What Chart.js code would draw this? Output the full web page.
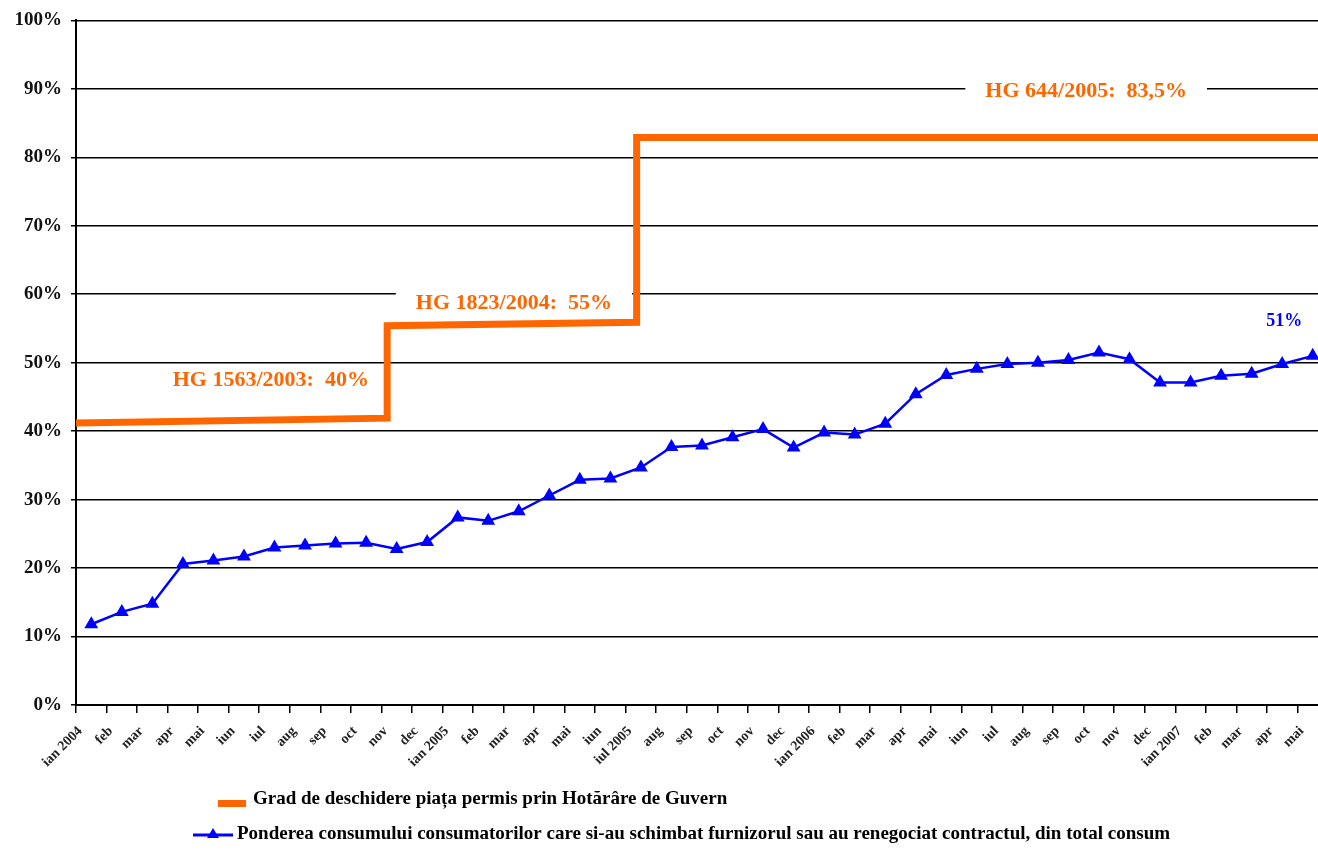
<!DOCTYPE html>
<html>
<head>
<meta charset="utf-8">
<script src="https://cdn.jsdelivr.net/npm/chart.js@4.4.1/dist/chart.umd.min.js"></script>
<style>
    html, body { margin: 0; padding: 0; background: #fff; overflow: hidden; }
    #wrap { width: 1336px; height: 850px; }
</style>
</head>
<body>
<div id="wrap"><canvas id="myLineChart" width="1336" height="850"></canvas></div>
<script>
// luni (categorii pe axa X)
const month_labels = [
    'ian 2004', 'feb', 'mar', 'apr', 'mai', 'iun', 'iul', 'aug', 'sep', 'oct', 'nov', 'dec',
    'ian 2005', 'feb', 'mar', 'apr', 'mai', 'iun', 'iul 2005', 'aug', 'sep', 'oct', 'nov', 'dec',
    'ian 2006', 'feb', 'mar', 'apr', 'mai', 'iun', 'iul', 'aug', 'sep', 'oct', 'nov', 'dec',
    'ian 2007', 'feb', 'mar', 'apr', 'mai'
];

// ponderea consumului (%), cate o valoare pe luna
const ponderea_values = [
    11.8, 13.6, 14.8, 20.6, 21.1, 21.7, 23.0, 23.3, 23.6, 23.7, 22.8, 23.8,
    27.4, 26.9, 28.3, 30.6, 32.9, 33.1, 34.7, 37.7, 37.9, 39.1, 40.3, 37.6,
    39.8, 39.5, 41.1, 45.4, 48.2, 49.1, 49.8, 50.0, 50.4, 51.5, 50.5, 47.1,
    47.1, 48.1, 48.4, 49.8, 51.0
];

// grad de deschidere: puncte de schimbare (x = index luna), valori in %
const grad_x = [-0.5, 9.69, 9.69, 17.86, 17.86, 40.5];
const grad_values = [41.2, 41.9, 55.4, 55.9, 82.9, 82.9];

const y_ticks = [0, 10, 20, 30, 40, 50, 60, 70, 80, 90, 100];

const series_labels = [
    'Grad de deschidere piața permis prin Hotărâre de Guvern',
    'Ponderea consumului consumatorilor care si-au schimbat furnizorul sau au renegociat contractul, din total consum'
];

const hg_notes = [
    {text: 'HG 1563/2003:  40%', x: 5.88, y: 47.4, color: '#FF6600', size: 22, pad: 16},
    {text: 'HG 1823/2004:  55%', x: 13.84, y: 58.7, color: '#FF6600', size: 22, pad: 20},
    {text: 'HG 644/2005:  83,5%', x: 32.58, y: 89.6, color: '#FF6600', size: 22, pad: 20},
    {text: '51%', x: 39.07, y: 56.0, color: '#0000FF', size: 18, pad: 4}
];

const FONT = "'Liberation Serif', 'DejaVu Serif', serif";
let myLineChart;

const notes_plugin = {
    id: 'hg_notes',
    beforeDatasetsDraw(chart) {
        const ctx = chart.ctx;
        const xs = chart.scales.x2;
        const ys = chart.scales.y;
        ctx.save();
        ctx.textAlign = 'center';
        ctx.textBaseline = 'middle';
        for (let note of hg_notes) {
            ctx.font = 'bold ' + note.size + 'px ' + FONT;
            let px = xs.getPixelForValue(note.x);
            let py = ys.getPixelForValue(note.y);
            let w = ctx.measureText(note.text).width;
            ctx.fillStyle = '#ffffff';
            ctx.fillRect(px - w / 2 - note.pad, py - note.size * 0.65, w + 2 * note.pad, note.size * 1.3);
            ctx.fillStyle = note.color;
            ctx.fillText(note.text, px, py);
        }
        ctx.restore();
    }
};

const legend_plugin = {
    id: 'bottom_legend',
    afterDraw(chart) {
        const ctx = chart.ctx;
        const ds = chart.data.datasets;
        ctx.save();
        ctx.textBaseline = 'middle';
        ctx.textAlign = 'left';
        ctx.font = 'bold 19px ' + FONT;

        // randul 1 - linia portocalie
        ctx.fillStyle = ds[0].borderColor;
        ctx.fillRect(218, 800, 28, 7);
        ctx.fillStyle = '#000';
        ctx.fillText(ds[0].label, 253, 799);

        // randul 2 - linia albastra cu marker
        ctx.strokeStyle = ds[1].borderColor;
        ctx.lineWidth = 3;
        ctx.beginPath();
        ctx.moveTo(193, 835);
        ctx.lineTo(233, 835);
        ctx.stroke();
        ctx.fillStyle = ds[1].borderColor;
        ctx.beginPath();
        ctx.moveTo(213, 828);
        ctx.lineTo(219, 838);
        ctx.lineTo(207, 838);
        ctx.closePath();
        ctx.fill();
        ctx.fillStyle = '#000';
        ctx.fillText(ds[1].label, 237, 834);
        ctx.restore();
    }
};

window.addEventListener('load', function () {
    draw_line_chart();
});

function draw_line_chart() {
    const ctx = document.getElementById('myLineChart').getContext('2d');

    if (myLineChart) {
        myLineChart.destroy();
    }

    myLineChart = new Chart(ctx, {
        type: 'line',
        data: {
            labels: month_labels,
            datasets: [
                {
                    label: series_labels[0],
                    data: grad_x.map((x, i) => ({x: x, y: grad_values[i]})),
                    xAxisID: 'x2',
                    borderColor: '#FF6600',
                    borderWidth: 7,
                    borderJoinStyle: 'miter',
                    borderCapStyle: 'butt',
                    pointRadius: 0,
                    fill: false,
                    tension: 0
                },
                {
                    label: series_labels[1],
                    data: ponderea_values,
                    xAxisID: 'x',
                    borderColor: '#0000FF',
                    backgroundColor: '#0000FF',
                    borderWidth: 2.5,
                    pointStyle: 'triangle',
                    pointRadius: 5.5,
                    pointBackgroundColor: '#0000FF',
                    pointBorderColor: '#0000FF',
                    fill: false,
                    tension: 0
                }
            ]
        },
        options: {
            responsive: false,
            animation: false,
            layout: {
                padding: {top: 18, right: 2, left: 0, bottom: 0}
            },
            plugins: {
                legend: {display: false},
                tooltip: {enabled: false},
                title: {display: false}
            },
            scales: {
                x: {
                    type: 'category',
                    offset: true,
                    afterFit: function (scale) {
                        scale.height = 145;
                    },
                    grid: {
                        offset: true,
                        drawOnChartArea: false,
                        drawTicks: true,
                        tickLength: 8,
                        color: '#000',
                        lineWidth: 1.5
                    },
                    border: {display: true, color: '#000', width: 2},
                    ticks: {
                        autoSkip: false,
                        minRotation: 45,
                        maxRotation: 45,
                        labelOffset: -11,
                        padding: 10,
                        color: '#222',
                        font: {family: FONT, size: 14, weight: 'bold'}
                    }
                },
                x2: {
                    type: 'linear',
                    display: false,
                    min: -0.5,
                    max: 40.5
                },
                y: {
                    min: 0,
                    max: 100,
                    afterFit: function (scale) {
                        scale.width = 76;
                    },
                    afterBuildTicks: function (scale) {
                        scale.ticks = y_ticks.map(v => ({value: v}));
                    },
                    grid: {
                        color: '#000',
                        lineWidth: 1.5,
                        tickLength: 5
                    },
                    border: {display: true, color: '#000', width: 2},
                    ticks: {
                        padding: 9,
                        color: '#111',
                        font: {family: FONT, size: 19, weight: 'bold'},
                        callback: function (value) {
                            return value + '%';
                        }
                    }
                }
            }
        },
        plugins: [notes_plugin, legend_plugin]
    });
}
</script>
</body>
</html>
